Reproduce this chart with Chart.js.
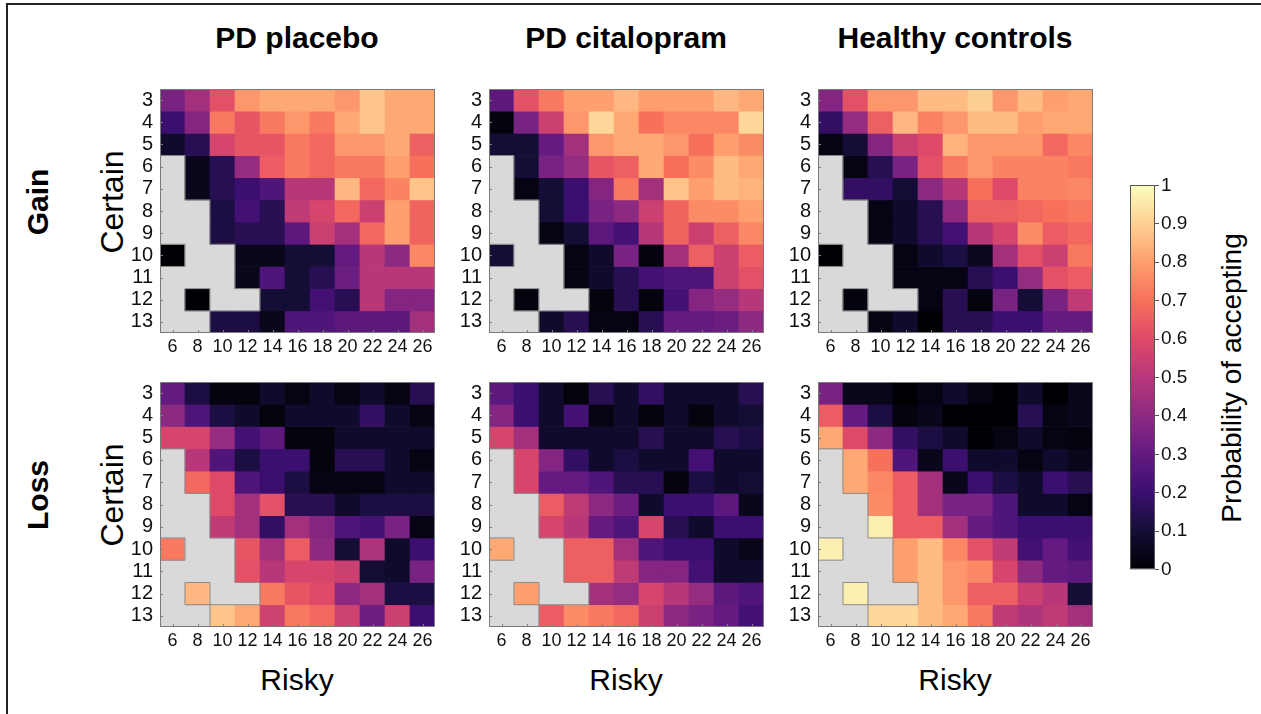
<!DOCTYPE html>
<html lang="en">
<head>
<meta charset="UTF-8">
<title>Probability of accepting</title>
<script src="https://cdn.jsdelivr.net/npm/chart.js"></script>
<style>
    body {
        margin: 0;
        background: white;
        font-family: "Liberation Sans", Arial, sans-serif;
        color: #000;
    }
    #page {
        position: relative;
        width: 1261px;
        height: 714px;
        overflow: hidden;
    }
    .frame-top { position: absolute; left: 6px; top: 3px; width: 1255px; height: 2px; background: #222; }
    .frame-left { position: absolute; left: 6px; top: 3px; width: 2px; height: 711px; background: #222; }
    canvas { position: absolute; }
    .lbl {
        position: absolute;
        white-space: nowrap;
        line-height: 1;
        transform: translate(-50%, -50%);
    }
    .rot { transform: translate(-50%, -50%) rotate(-90deg); }
    .title { font-weight: bold; font-size: 30px; }
    .axis { font-size: 32px; }
</style>
</head>
<body>
<div id="page">
    <div class="frame-top"></div>
    <div class="frame-left"></div>

    <div class="lbl title" style="left:297px; top:38px;">PD placebo</div>
    <div class="lbl title" style="left:626px; top:38px;">PD citalopram</div>
    <div class="lbl title" style="left:955px; top:38px;">Healthy controls</div>

    <div class="lbl title rot" style="left:38px; top:202px;">Gain</div>
    <div class="lbl title rot" style="left:38px; top:495px;">Loss</div>
    <div class="lbl axis rot" style="left:112px; top:202px;">Certain</div>
    <div class="lbl axis rot" style="left:112px; top:495px;">Certain</div>

    <div class="lbl axis" style="left:297px; top:680px; font-size:30px;">Risky</div>
    <div class="lbl axis" style="left:626px; top:680px; font-size:30px;">Risky</div>
    <div class="lbl axis" style="left:955px; top:680px; font-size:30px;">Risky</div>

    <div class="lbl rot" style="left:1232px; top:378px; font-size:28px;">Probability of accepting</div>

    <canvas id="gainPlacebo"></canvas>
    <canvas id="gainCitalopram"></canvas>
    <canvas id="gainControls"></canvas>
    <canvas id="lossPlacebo"></canvas>
    <canvas id="lossCitalopram"></canvas>
    <canvas id="lossControls"></canvas>
    <canvas id="colorbar"></canvas>
</div>

<script>
// risky amounts (columns) and certain amounts (rows)
const risky = [6, 8, 10, 12, 14, 16, 18, 20, 22, 24, 26];
const certain = [3, 4, 5, 6, 7, 8, 9, 10, 11, 12, 13];
const colorbarTicks = [0, 0.1, 0.2, 0.3, 0.4, 0.5, 0.6, 0.7, 0.8, 0.9, 1];

// probability of accepting, one row per certain amount (null = no trials)
const gainPlacebo = [
    [0.35, 0.45, 0.62, 0.78, 0.82, 0.82, 0.82, 0.78, 0.88, 0.82, 0.82],
    [0.20, 0.38, 0.72, 0.63, 0.72, 0.78, 0.72, 0.82, 0.88, 0.82, 0.82],
    [0.08, 0.15, 0.58, 0.63, 0.63, 0.72, 0.68, 0.78, 0.78, 0.82, 0.66],
    [null, 0.05, 0.15, 0.42, 0.65, 0.72, 0.68, 0.72, 0.72, 0.80, 0.70],
    [null, 0.05, 0.15, 0.20, 0.25, 0.50, 0.50, 0.85, 0.68, 0.74, 0.88],
    [null, null, 0.12, 0.22, 0.15, 0.52, 0.58, 0.68, 0.55, 0.80, 0.67],
    [null, null, 0.12, 0.15, 0.15, 0.28, 0.55, 0.45, 0.68, 0.80, 0.67],
    [0.00, null, null, 0.05, 0.05, 0.10, 0.10, 0.30, 0.50, 0.40, 0.75],
    [null, null, null, 0.05, 0.25, 0.10, 0.15, 0.32, 0.50, 0.50, 0.50],
    [null, 0.00, null, null, 0.10, 0.10, 0.22, 0.15, 0.50, 0.38, 0.38],
    [null, null, 0.12, 0.12, 0.05, 0.25, 0.25, 0.28, 0.28, 0.28, 0.45]
];
const gainCitalopram = [
    [0.28, 0.62, 0.72, 0.80, 0.80, 0.85, 0.80, 0.80, 0.80, 0.85, 0.82],
    [0.02, 0.35, 0.55, 0.78, 0.92, 0.82, 0.70, 0.75, 0.75, 0.75, 0.92],
    [0.10, 0.10, 0.30, 0.45, 0.78, 0.82, 0.82, 0.78, 0.70, 0.80, 0.76],
    [null, 0.10, 0.35, 0.42, 0.63, 0.66, 0.82, 0.70, 0.76, 0.86, 0.82],
    [null, 0.03, 0.10, 0.20, 0.38, 0.72, 0.45, 0.88, 0.80, 0.86, 0.84],
    [null, null, 0.10, 0.20, 0.35, 0.40, 0.55, 0.67, 0.76, 0.76, 0.80],
    [null, null, 0.03, 0.10, 0.28, 0.22, 0.50, 0.67, 0.55, 0.66, 0.75],
    [0.10, null, null, 0.03, 0.08, 0.35, 0.02, 0.45, 0.66, 0.55, 0.65],
    [null, null, null, 0.03, 0.08, 0.15, 0.22, 0.25, 0.25, 0.55, 0.62],
    [null, 0.02, null, null, 0.02, 0.15, 0.02, 0.22, 0.38, 0.42, 0.50],
    [null, null, 0.08, 0.15, 0.03, 0.03, 0.15, 0.30, 0.30, 0.32, 0.40]
];
const gainControls = [
    [0.38, 0.62, 0.78, 0.78, 0.86, 0.86, 0.90, 0.78, 0.86, 0.80, 0.82],
    [0.18, 0.42, 0.66, 0.85, 0.74, 0.78, 0.86, 0.86, 0.80, 0.82, 0.82],
    [0.03, 0.10, 0.38, 0.55, 0.60, 0.84, 0.78, 0.78, 0.78, 0.68, 0.75],
    [null, 0.03, 0.15, 0.35, 0.62, 0.72, 0.78, 0.74, 0.74, 0.74, 0.72],
    [null, 0.18, 0.18, 0.10, 0.40, 0.50, 0.70, 0.60, 0.74, 0.74, 0.75],
    [null, null, 0.03, 0.08, 0.15, 0.40, 0.66, 0.66, 0.68, 0.70, 0.72],
    [null, null, 0.03, 0.08, 0.15, 0.22, 0.50, 0.58, 0.76, 0.65, 0.68],
    [0.00, null, null, 0.03, 0.08, 0.12, 0.06, 0.45, 0.62, 0.55, 0.72],
    [null, null, null, 0.03, 0.03, 0.03, 0.15, 0.20, 0.42, 0.62, 0.65],
    [null, 0.02, null, null, 0.03, 0.15, 0.02, 0.35, 0.10, 0.35, 0.52],
    [null, null, 0.03, 0.08, 0.00, 0.15, 0.15, 0.20, 0.20, 0.30, 0.30]
];
const lossPlacebo = [
    [0.30, 0.12, 0.02, 0.02, 0.08, 0.03, 0.08, 0.03, 0.08, 0.03, 0.15],
    [0.40, 0.25, 0.12, 0.08, 0.02, 0.08, 0.08, 0.08, 0.18, 0.08, 0.03],
    [0.58, 0.58, 0.42, 0.22, 0.28, 0.02, 0.02, 0.08, 0.08, 0.08, 0.08],
    [null, 0.50, 0.25, 0.12, 0.20, 0.20, 0.02, 0.15, 0.15, 0.08, 0.03],
    [null, 0.68, 0.60, 0.25, 0.20, 0.12, 0.03, 0.03, 0.03, 0.08, 0.08],
    [null, null, 0.60, 0.45, 0.62, 0.15, 0.15, 0.08, 0.12, 0.12, 0.12],
    [null, null, 0.52, 0.45, 0.18, 0.45, 0.38, 0.25, 0.22, 0.35, 0.03],
    [0.72, null, null, 0.63, 0.45, 0.65, 0.40, 0.10, 0.48, 0.08, 0.20],
    [null, null, null, 0.62, 0.50, 0.58, 0.58, 0.55, 0.10, 0.08, 0.35],
    [null, 0.85, null, null, 0.72, 0.63, 0.60, 0.40, 0.45, 0.12, 0.12],
    [null, null, 0.88, 0.82, 0.56, 0.72, 0.68, 0.56, 0.32, 0.55, 0.20]
];
const lossCitalopram = [
    [0.28, 0.20, 0.08, 0.02, 0.15, 0.08, 0.18, 0.08, 0.08, 0.08, 0.15],
    [0.38, 0.20, 0.08, 0.22, 0.03, 0.08, 0.02, 0.08, 0.02, 0.08, 0.10],
    [0.58, 0.45, 0.08, 0.08, 0.08, 0.08, 0.15, 0.08, 0.08, 0.15, 0.12],
    [null, 0.58, 0.38, 0.18, 0.08, 0.12, 0.08, 0.08, 0.22, 0.08, 0.08],
    [null, 0.58, 0.30, 0.30, 0.25, 0.15, 0.15, 0.02, 0.12, 0.08, 0.10],
    [null, null, 0.65, 0.52, 0.40, 0.32, 0.08, 0.20, 0.20, 0.28, 0.05],
    [null, null, 0.58, 0.50, 0.30, 0.25, 0.58, 0.15, 0.08, 0.20, 0.20],
    [0.82, null, null, 0.66, 0.66, 0.45, 0.25, 0.20, 0.20, 0.08, 0.05],
    [null, null, null, 0.66, 0.66, 0.52, 0.38, 0.38, 0.22, 0.08, 0.08],
    [null, 0.80, null, null, 0.45, 0.42, 0.58, 0.50, 0.42, 0.28, 0.25],
    [null, null, 0.65, 0.76, 0.72, 0.68, 0.55, 0.40, 0.35, 0.30, 0.22]
];
const lossControls = [
    [0.35, 0.05, 0.05, 0.00, 0.03, 0.08, 0.03, 0.00, 0.08, 0.00, 0.05],
    [0.65, 0.30, 0.12, 0.02, 0.05, 0.00, 0.00, 0.00, 0.15, 0.03, 0.05],
    [0.82, 0.60, 0.40, 0.18, 0.12, 0.08, 0.00, 0.03, 0.08, 0.03, 0.02],
    [null, 0.82, 0.70, 0.25, 0.05, 0.20, 0.08, 0.08, 0.03, 0.08, 0.05],
    [null, 0.82, 0.75, 0.65, 0.45, 0.05, 0.20, 0.12, 0.08, 0.20, 0.15],
    [null, null, 0.76, 0.65, 0.45, 0.35, 0.35, 0.25, 0.08, 0.08, 0.03],
    [null, null, 0.97, 0.65, 0.65, 0.45, 0.30, 0.25, 0.20, 0.20, 0.20],
    [0.97, null, null, 0.80, 0.86, 0.75, 0.62, 0.52, 0.22, 0.30, 0.22],
    [null, null, null, 0.80, 0.86, 0.78, 0.75, 0.58, 0.40, 0.30, 0.28],
    [null, 0.97, null, null, 0.86, 0.78, 0.66, 0.66, 0.55, 0.50, 0.10],
    [null, null, 0.92, 0.92, 0.86, 0.82, 0.72, 0.52, 0.48, 0.52, 0.45]
];

// magma colormap, sampled every 0.1
const magma = ['#000004', '#140e36', '#3b0f70', '#641a80', '#8c2981', '#b73779',
               '#de4968', '#f7705c', '#fe9f6d', '#fecf92', '#fcfdbf'];
const nanColor = '#d9d9d9';

function hexToRgb(h) {
    return [parseInt(h.slice(1, 3), 16), parseInt(h.slice(3, 5), 16), parseInt(h.slice(5, 7), 16)];
}

function toColor(v) {
    if (v === null) return nanColor;
    const t = Math.max(0, Math.min(1, v)) * (magma.length - 1);
    const i = Math.min(Math.floor(t), magma.length - 2);
    const f = t - i;
    const a = hexToRgb(magma[i]), b = hexToRgb(magma[i + 1]);
    const c = a.map((x, k) => Math.round(x + (b[k] - x) * f));
    return `rgb(${c[0]}, ${c[1]}, ${c[2]})`;
}

// box around the plot, small inward ticks, and outline of the empty region
const boxPlugin = {
    id: 'box',
    afterDatasetsDraw(chart, args, opts) {
        const { ctx, chartArea: a, scales: { x, y } } = chart;
        const m = opts.matrix;
        ctx.save();
        ctx.lineWidth = 1;
        if (m) {
            ctx.strokeStyle = '#8a8a8a';
            const half = (x.getPixelForValue(1) - x.getPixelForValue(0)) / 2;
            const filled = (i, j) => i >= 0 && i < m.length && j >= 0 && j < m[i].length && m[i][j] !== null;
            ctx.beginPath();
            m.forEach((row, i) => row.forEach((v, j) => {
                if (v !== null) return;
                const cx = x.getPixelForValue(j);
                const x0 = cx - half, x1 = cx + half;
                const y0 = y.getPixelForValue(certain[i] - 0.5), y1 = y.getPixelForValue(certain[i] + 0.5);
                if (filled(i, j + 1)) { ctx.moveTo(x1, y0); ctx.lineTo(x1, y1); }
                if (filled(i, j - 1)) { ctx.moveTo(x0, y0); ctx.lineTo(x0, y1); }
                if (filled(i - 1, j)) { ctx.moveTo(x0, y0); ctx.lineTo(x1, y0); }
                if (filled(i + 1, j)) { ctx.moveTo(x0, y1); ctx.lineTo(x1, y1); }
            }));
            ctx.stroke();

            ctx.strokeStyle = '#808080';
            ctx.beginPath();
            risky.forEach((r, j) => {
                const px = Math.round(x.getPixelForValue(j)) + 0.5;
                ctx.moveTo(px, a.bottom); ctx.lineTo(px, a.bottom - 3);
            });
            certain.forEach(c => {
                const py = Math.round(y.getPixelForValue(c)) + 0.5;
                ctx.moveTo(a.left, py); ctx.lineTo(a.left + 3, py);
            });
            ctx.stroke();
        }
        ctx.strokeStyle = opts.color || '#7a7a7a';
        ctx.strokeRect(Math.round(a.left) + 0.5, Math.round(a.top) + 0.5,
                       Math.round(a.width) - 1, Math.round(a.height) - 1);
        ctx.restore();
    }
};

const plotW = 275;
const yAxisW = 60;
const xAxisH = 30;

function makePanel(id, matrix, left, top, height) {
    const canvas = document.getElementById(id);
    canvas.width = yAxisW + plotW + 1;
    canvas.height = height + xAxisH + 1;
    canvas.style.left = (left - yAxisW) + 'px';
    canvas.style.top = (top - 1) + 'px';

    new Chart(canvas, {
        type: 'bar',
        data: {
            labels: risky,
            datasets: certain.map((c, i) => ({
                data: risky.map(() => [c - 0.5, c + 0.5]),
                backgroundColor: matrix[i].map(toColor),
                borderWidth: 0,
                grouped: false,
                barPercentage: 1,
                categoryPercentage: 1
            }))
        },
        options: {
            responsive: false,
            animation: false,
            layout: { padding: { top: 1, right: 1, left: 0, bottom: 0 } },
            plugins: {
                legend: { display: false },
                tooltip: { enabled: false },
                box: { matrix: matrix }
            },
            scales: {
                x: {
                    type: 'category',
                    grid: { display: false, drawTicks: false },
                    border: { display: false },
                    ticks: {
                        color: '#111',
                        font: { size: 18, family: '"Liberation Sans", Arial, sans-serif' },
                        padding: 3,
                        maxRotation: 0,
                        autoSkip: false
                    },
                    afterFit: s => { s.height = xAxisH; }
                },
                y: {
                    type: 'linear',
                    reverse: true,
                    min: certain[0] - 0.5,
                    max: certain[certain.length - 1] + 0.5,
                    afterBuildTicks: s => { s.ticks = certain.map(v => ({ value: v })); },
                    grid: { display: false, drawTicks: false },
                    border: { display: false },
                    ticks: {
                        color: '#111',
                        font: { size: 20, family: '"Liberation Sans", Arial, sans-serif' },
                        padding: 7,
                        autoSkip: false
                    },
                    afterFit: s => { s.width = yAxisW; }
                }
            }
        },
        plugins: [boxPlugin]
    });
}

const lefts = [160, 489, 818];
makePanel('gainPlacebo', gainPlacebo, lefts[0], 71, 262);
makePanel('gainCitalopram', gainCitalopram, lefts[1], 71, 262);
makePanel('gainControls', gainControls, lefts[2], 71, 262);
makePanel('lossPlacebo', lossPlacebo, lefts[0], 364, 263);
makePanel('lossCitalopram', lossCitalopram, lefts[1], 364, 263);
makePanel('lossControls', lossControls, lefts[2], 364, 263);

// colour bar
(function () {
    const canvas = document.getElementById('colorbar');
    const barW = 25, barH = 399, axisW = 50;
    canvas.width = barW + axisW;
    canvas.height = barH + 12;
    canvas.style.left = '1130px';
    canvas.style.top = (178 - 6) + 'px';

    new Chart(canvas, {
        type: 'bar',
        data: {
            labels: [''],
            datasets: [{
                data: [[colorbarTicks[0], colorbarTicks[colorbarTicks.length - 1]]],
                backgroundColor: ctx => {
                    const area = ctx.chart.chartArea;
                    if (!area) return null;
                    const g = ctx.chart.ctx.createLinearGradient(0, area.bottom, 0, area.top);
                    magma.forEach((c, i) => g.addColorStop(i / (magma.length - 1), c));
                    return g;
                },
                borderWidth: 0,
                barPercentage: 1,
                categoryPercentage: 1
            }]
        },
        options: {
            responsive: false,
            animation: false,
            layout: { padding: { top: 6, bottom: 6, left: 0, right: 0 } },
            plugins: {
                legend: { display: false },
                tooltip: { enabled: false },
                box: { color: '#555' }
            },
            scales: {
                x: { display: false },
                y: {
                    position: 'right',
                    min: 0,
                    max: 1,
                    afterBuildTicks: s => { s.ticks = colorbarTicks.map(v => ({ value: v })); },
                    grid: { drawOnChartArea: false, drawTicks: true, tickLength: 4, color: '#555' },
                    border: { display: false },
                    ticks: {
                        color: '#111',
                        font: { size: 19, family: '"Liberation Sans", Arial, sans-serif' },
                        padding: 2,
                        autoSkip: false,
                        callback: v => String(Math.round(v * 10) / 10)
                    },
                    afterFit: s => { s.width = axisW; }
                }
            }
        },
        plugins: [boxPlugin]
    });
})();
</script>
</body>
</html>
